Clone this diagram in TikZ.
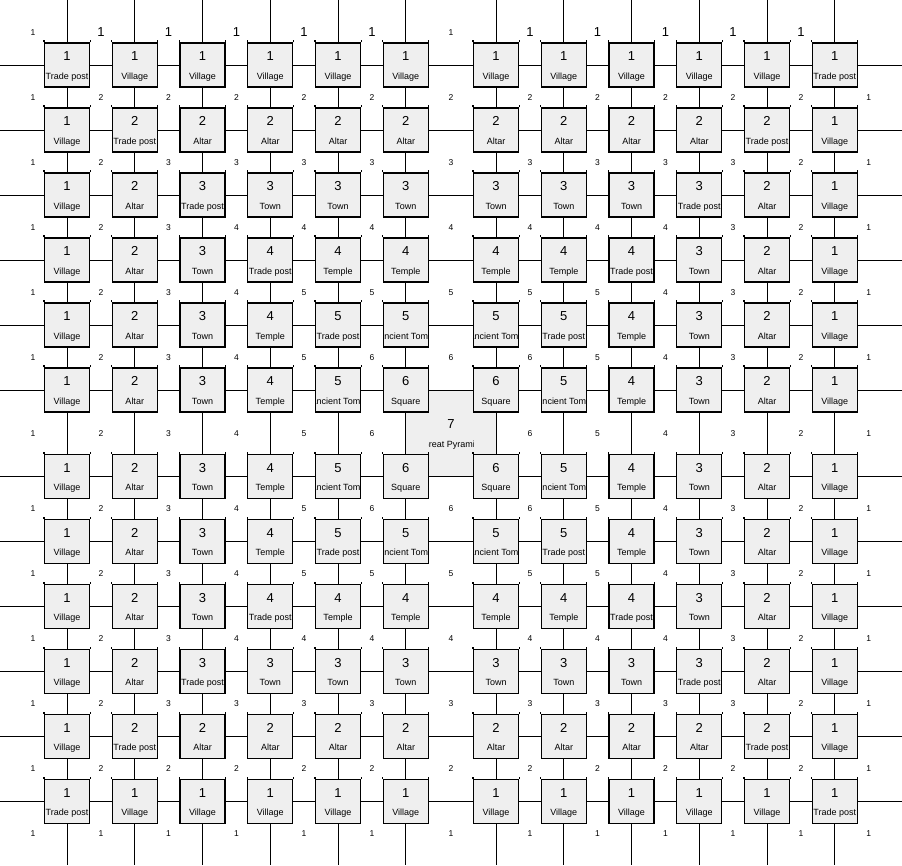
\documentclass[tikz,border=0pt]{standalone}
\usepackage{fontspec}
\setmainfont{Liberation Sans}
\definecolor{boxgray}{RGB}{239,239,239}
\begin{document}
\begin{tikzpicture}[x=1pt,y=-1pt,
  box/.style={draw=black, line width=1.1pt, fill=boxgray, minimum width=45pt, minimum height=44pt, inner sep=0pt},
  pyrbox/.style={fill=boxgray, minimum width=90.25pt, minimum height=86.5pt, inner sep=0pt},
  gridline/.style={line width=1pt, black},
  tick/.style={line width=1.1pt, black},
  num/.style={font=\fontsize{13}{13}\selectfont, inner sep=0pt, anchor=base},
  lab/.style={font=\fontsize{9}{9}\selectfont, inner sep=0pt, anchor=base},
  cnum/.style={font=\fontsize{8.5}{8.5}\selectfont, inner sep=0pt},
  bignum/.style={font=\fontsize{13}{13}\selectfont, inner sep=0pt}]
\def\colx{{67,134.75,202.5,270.25,338,405.75,496,563.75,631.5,699.25,767,834.75}}
\def\rowy{{65,130,195,260,325,390,476.5,541.5,606.5,671.5,736.5,801.5}}
\def\cornx{{33,100.9,168.6,236.4,304.1,371.9,450.9,529.9,597.6,665.4,733.1,800.9,868.75}}
\def\corny{{32.5,97.5,162.5,227.5,292.5,357.5,433.25,509,574,639,704,769,834}}
\fill[white] (0,0) rectangle (902,865);
\useasboundingbox (0,0) rectangle (902,865);
% great pyramid background
\node[pyrbox] (pyr) at (450.9,433.25) {};
% grid lines
\foreach \r in {0,...,11}{
  \pgfmathsetmacro\yy{\rowy[\r]}
  \coordinate (L\r) at (0,\yy);
  \coordinate (R\r) at (902,\yy);
  \draw[gridline] (L\r) -- (R\r);
}
\foreach \c in {0,...,11}{
  \pgfmathsetmacro\xx{\colx[\c]}
  \coordinate (T\c) at (\xx,0);
  \coordinate (B\c) at (\xx,865);
  \draw[gridline] (T\c) -- (B\c);
}
% pyramid texts
\node[num] (pyrnum) at (450.9,428.95) {7};
\begin{scope}
  \clip (428.4,390) rectangle (473.4,476.5);
  \node[lab] (pyrlab) at (450.9,447.55) {Great Pyramid};
\end{scope}
% boxes
\foreach \r in {1,...,12}{
  \foreach \c in {1,...,12}{
    \pgfmathtruncatemacro\i{min(\r,13-\r)}
    \pgfmathtruncatemacro\j{min(\c,13-\c)}
    \pgfmathtruncatemacro\m{min(\i,\j)}
    \pgfmathsetmacro\xx{\colx[\c-1]}
    \pgfmathsetmacro\yy{\rowy[\r-1]}
    \node[box] (b-\r-\c) at (\xx,\yy) {};
    \draw[tick] (b-\r-\c.north west) -- ++(0,-2);
    \draw[tick] (b-\r-\c.north east) -- ++(0,-2);
    \node[num] (n-\r-\c) at (\xx,\yy-4.3) {\m};
    \begin{scope}
      \clip (\xx-22,\yy-22) rectangle (\xx+22,\yy+22);
      \node[lab] (t-\r-\c) at (\xx,\yy+14.3) {\ifnum\i=\j \ifnum\i=6 Square\else Trade post\fi\else\ifcase\m\or Village\or Altar\or Town\or Temple\or Ancient Tomb\fi\fi};
    \end{scope}
  }
}
% corner numbers
\foreach \p in {0,...,12}{
  \foreach \q in {0,...,12}{
    \pgfmathtruncatemacro\ap{min(\p,12-\p)+1}
    \pgfmathtruncatemacro\aq{min(\q,12-\q)+1}
    \pgfmathtruncatemacro\v{min(\ap,\aq)}
    \pgfmathsetmacro\xx{\cornx[\q]}
    \pgfmathsetmacro\yy{\corny[\p]}
    \pgfmathtruncatemacro\skipit{((\p==0)&&(\q==12))||((\p==6)&&(\q==6))}
    \pgfmathtruncatemacro\big{(\p==0)&&(\q!=0)&&(\q!=6)&&(\q!=12)}
    \ifnum\skipit=0
      \ifnum\big=1
        \node[bignum] (c-\p-\q) at (\xx,\yy) {\v};
      \else
        \node[cnum] (c-\p-\q) at (\xx,\yy) {\v};
      \fi
    \fi
  }
}
\end{tikzpicture}
\end{document}
